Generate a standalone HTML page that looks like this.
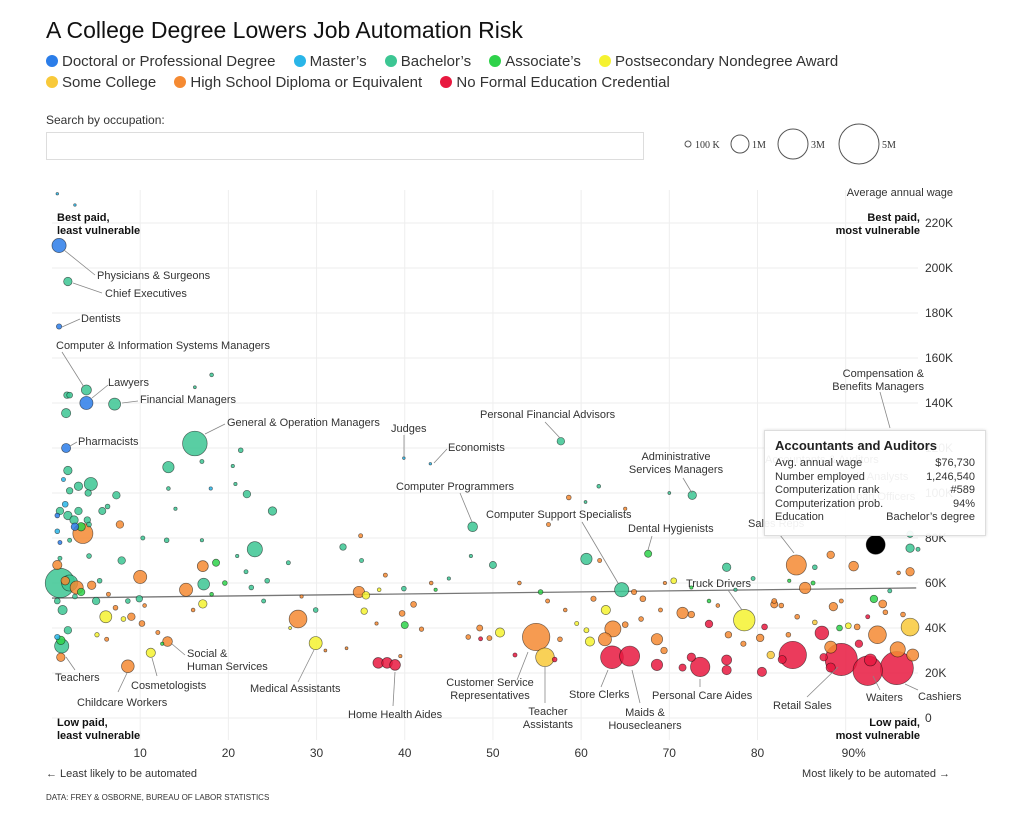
<!DOCTYPE html>
<html><head><meta charset="utf-8">
<style>
body{margin:0;background:#fff;font-family:"Liberation Sans",sans-serif;color:#222;}
#wrap{position:relative;width:1024px;height:831px;overflow:hidden;}
.title{position:absolute;left:46px;top:17px;font-size:23px;color:#111;}
.leg{position:absolute;left:46px;font-size:15px;color:#333;white-space:nowrap;}
.leg span{margin-right:14px;}
.dot{display:inline-block;width:12px;height:12px;border-radius:50%;margin-right:4px;vertical-align:-1px;}
.slabel{position:absolute;left:46px;top:113px;font-size:12px;color:#333;}
.search{position:absolute;left:46px;top:132px;width:596px;height:26px;border:1px solid #ddd;}
#tip{position:absolute;left:764px;top:430px;width:220px;height:104px;border:1px solid #ddd;background:rgba(255,255,255,0.93);box-shadow:0 0 3px rgba(0,0,0,0.15);font-size:11px;color:#333;}
#tip .h{font-weight:bold;font-size:13px;margin:7px 0 4px 10px;color:#222;}
#tip .r{display:flex;justify-content:space-between;margin:0 10px;line-height:13.6px;}
</style></head><body>
<div id="wrap">
<div class="title">A College Degree Lowers Job Automation Risk</div>
<div class="leg" style="top:53px">
<span><i class="dot" style="background:#2b7de9"></i>Doctoral or Professional Degree</span>
<span><i class="dot" style="background:#29b5e8"></i>Master’s</span>
<span><i class="dot" style="background:#3cc693"></i>Bachelor’s</span>
<span><i class="dot" style="background:#2ed24a"></i>Associate’s</span>
<span><i class="dot" style="background:#f5f230"></i>Postsecondary Nondegree Award</span>
</div>
<div class="leg" style="top:74px">
<span><i class="dot" style="background:#f8c93a"></i>Some College</span>
<span><i class="dot" style="background:#f58a32"></i>High School Diploma or Equivalent</span>
<span><i class="dot" style="background:#e8193f"></i>No Formal Education Credential</span>
</div>
<div class="slabel">Search by occupation:</div>
<div class="search"></div>
<svg id="chart" width="1024" height="831" style="position:absolute;left:0;top:0"></svg>
<div id="tip">
<div class="h">Accountants and Auditors</div>
<div class="r"><span>Avg. annual wage</span><span>$76,730</span></div>
<div class="r"><span>Number employed</span><span>1,246,540</span></div>
<div class="r"><span>Computerization rank</span><span>#589</span></div>
<div class="r"><span>Computerization prob.</span><span>94%</span></div>
<div class="r"><span>Education</span><span>Bachelor’s degree</span></div>
</div>
</div>
<script>
const xTicks=[10,20,30,40,50,60,70,80,90];
const yTicks=[0,20,40,60,80,100,120,140,160,180,200,220];
const trendProb=[0,98];
const trendWage=[53.3,57.8];
const colors={D:"#2b7de9",M:"#29b5e8",B:"#3cc693",A:"#2ed24a",P:"#f5f230",S:"#f8c93a",H:"#f58a32",N:"#e8193f",K:"#000"};
// [prob %, wage K, employment K, education]
const jobs=[
[0.8,210,700,"D"],[1.8,194,250,"B"],[0.8,174,100,"D"],[3.9,145.8,350,"B"],[3.9,140,600,"D"],[7.1,139.5,500,"B"],
[1.7,143.5,150,"B"],[2.0,143.5,120,"B"],[1.6,135.5,300,"B"],[16.2,122,2100,"B"],[1.6,120,290,"D"],
[18.1,152.5,50,"B"],[16.2,147,30,"B"],[39.9,115.5,25,"M"],[42.9,113,20,"M"],[57.7,123,200,"B"],[47.7,85,330,"B"],
[72.6,99,250,"B"],[67.6,73,180,"A"],[64.6,57,700,"B"],[78.5,43.5,1600,"P"],[84.4,68,1400,"H"],[93.4,77,1250,"K"],
[97.3,81.7,150,"B"],[97.3,75.5,250,"B"],[98.2,75,60,"B"],
[54.9,36,2600,"H"],[55.9,27,1200,"S"],[37,24.5,400,"N"],[38,24.5,400,"N"],[38.9,23.6,400,"N"],
[63.5,27,1800,"N"],[65.5,27.5,1400,"N"],[73.5,22.7,1300,"N"],[84.0,28,2600,"N"],[89.5,26,3600,"N"],[92.5,21,3000,"N"],[95.8,22.2,3800,"N"],
[29.9,33.3,590,"P"],[27.9,44,1100,"H"],[11.2,29,300,"P"],[8.6,23,560,"H"],[13.1,34,330,"H"],
[0.9,60,3000,"B"],[2.0,60,900,"B"],[2.8,58,600,"H"],[1.1,32,700,"B"],[1,27,250,"H"],[1,34.5,250,"A"],
[3.5,82,1400,"H"],[4.4,104,600,"B"],[23,75,800,"B"],[13.2,111.5,450,"B"],[17.2,59.5,480,"B"],[15.2,57,600,"H"],
[17.1,67.5,420,"H"],[10,62.7,600,"H"],[6.1,45,500,"P"],[17.1,50.7,250,"P"],[18.6,69,180,"A"],[25,92,250,"B"],
[22.1,99.5,200,"B"],[7.3,99,200,"B"],[7.9,70,200,"B"],[13,79,80,"B"],[7.7,86,200,"H"],[34.8,56,450,"H"],[35.6,54.5,200,"P"],
[33,76,150,"B"],[35,81,60,"H"],[35.1,70,60,"B"],[37.8,63.5,60,"H"],[37.1,57,50,"P"],[39.9,57.5,80,"B"],[35.4,47.5,150,"P"],
[40,41.3,180,"A"],[41,50.5,120,"H"],[41.9,39.5,70,"H"],[39.7,46.5,120,"H"],[50,68,180,"B"],[50.8,38,300,"P"],[48.5,40,130,"H"],
[49.6,35.5,90,"H"],[47.2,36,80,"H"],[48.6,35.2,60,"N"],[60.6,70.7,450,"B"],[58.6,98,80,"H"],[56.3,86,60,"H"],[55.4,56,80,"A"],
[62.8,48,300,"P"],[63.6,39.6,900,"H"],[62.7,35,600,"H"],[68.6,35,450,"H"],[71.5,46.7,450,"H"],[72.5,46,150,"H"],[74.5,41.8,200,"N"],
[70.5,61,120,"P"],[74.5,52,50,"A"],[76.5,67,250,"B"],[85.4,57.8,450,"H"],[83.6,61,40,"A"],[90.9,67.5,330,"H"],[97.3,65,250,"H"],
[88.3,72.5,200,"H"],[93.2,52.9,200,"A"],[94.2,50.7,220,"H"],[87.3,37.8,650,"N"],[90.3,41,120,"P"],[89.3,40,120,"A"],[91.3,40.5,120,"H"],
[93.6,37,1100,"H"],[97.3,40.4,1100,"S"],[95.9,30.5,800,"H"],[97.6,28,500,"H"],[92.8,25.8,500,"N"],[88.3,31.5,500,"H"],
[81.9,50.5,180,"H"],[81.9,52,90,"H"],[82.7,50,80,"H"],[80.3,35.6,200,"H"],[88.6,49.5,250,"H"],
[72.5,27,250,"N"],[71.5,22.4,180,"N"],[68.6,23.6,450,"N"],[76.5,25.8,350,"N"],[76.5,21.3,300,"N"],[80.5,20.5,300,"N"],
[82.8,26,230,"N"],[81.5,28,200,"S"],[87.5,27,200,"N"],[91.5,33,200,"N"],[88.3,22.4,300,"N"],
[69.4,30,150,"H"],[65,41.5,120,"H"],[66.8,44,80,"H"],[76.7,37,150,"H"],[78.4,33,100,"H"],[80.8,40.5,120,"N"],
[60.6,39,90,"P"],[59.5,42,60,"P"],[61,34,300,"P"],[57.6,35,80,"H"],[57,26,80,"N"],[52.5,28,60,"N"],
[62.1,70,60,"H"],[61.4,53,100,"H"],[66,56,100,"H"],[67,53,120,"H"],[69,48,60,"H"],
[1.2,48,300,"B"],[1.8,39,200,"B"],[0.6,36,100,"M"],[5.0,52,200,"B"],[4.5,59,250,"H"],[0.6,68,300,"H"],[1.5,61,250,"H"],
[3.3,56,200,"A"],[2.6,54,80,"B"],[0.6,52,120,"B"],[1.8,110,250,"B"],[1.3,106,60,"M"],[2,101,150,"B"],[3,103,250,"B"],
[4.1,100,150,"B"],[3,92,200,"B"],[0.9,92,200,"B"],[1.5,95,120,"M"],[0.6,90,80,"D"],[1.8,90,250,"B"],[2.5,88,250,"B"],
[4,88,150,"B"],[2.6,85,200,"D"],[3.3,85,250,"A"],[4.2,86,80,"B"],[0.6,83,80,"M"],[0.9,78,60,"D"],[2,79,60,"B"],
[0.9,71,60,"B"],[4.2,72,80,"B"],[5.7,92,180,"B"],[6.3,94,80,"B"],[10.3,80,60,"B"],[5.4,61,80,"B"],[6.4,55,60,"H"],
[8.6,52,80,"B"],[7.2,49,80,"H"],[8.1,44,80,"P"],[5.1,37,70,"P"],[9,45,200,"H"],[10.2,42,120,"H"],[6.2,35,60,"H"],
[9.9,53,150,"B"],[21.4,119,80,"B"],[20.5,112,40,"B"],[17,114,60,"B"],[20.8,104,40,"B"],[18,102,40,"M"],
[13.2,102,50,"B"],[14,93,40,"B"],[17,79,40,"B"],[21,72,40,"B"],[22,65,60,"B"],[22.6,58,80,"B"],[24,52,60,"B"],[24.4,61,80,"B"],
[19.6,60,80,"A"],[18.1,55,50,"A"],[16,48,50,"H"],[12,38,60,"H"],[12.5,33,40,"A"],[10.5,50,50,"H"],[26.8,69,60,"B"],
[29.9,48,80,"B"],[28.3,54,40,"H"],[27,40,30,"P"],[31,30,30,"H"],[36.8,42,40,"H"],[39.5,27.5,40,"H"],[33.4,31,30,"H"],
[43,60,50,"H"],[45,62,40,"B"],[43.5,57,40,"A"],[47.5,72,40,"B"],[53,60,50,"H"],[56.2,52,60,"H"],[58.2,48,50,"H"],
[62,103,50,"B"],[65,93,40,"H"],[60.5,96,30,"B"],[70,100,30,"B"],[86.5,67,80,"B"],[86.3,60,60,"A"],[96,64.5,50,"H"],[95,56.5,60,"B"],
[94.5,47,80,"H"],[96.5,46,80,"H"],[92.5,45,60,"N"],[89.5,52,60,"H"],[84.5,45,80,"H"],[86.5,42.5,80,"S"],[83.5,37,80,"H"],
[79.5,62,60,"B"],[77.5,57,40,"B"],[75.5,50,50,"H"],[72.5,58,40,"A"],[69.5,60,40,"H"],[0.6,233,20,"M"],[2.6,228,20,"M"]
];
const svg=document.getElementById('chart');
const NS='http://www.w3.org/2000/svg';
const X0=52,X1=918,PMAX=98.2,Y0=718,YPER=2.25;
function xs(p){return X0+p*(X1-X0)/PMAX;}
function ys(w){return Y0-w*YPER;}
function rs(e){return 19*Math.sqrt(e/5000);}
function mk(t,a,p){const e=document.createElementNS(NS,t);for(const k in a)e.setAttribute(k,a[k]);(p||svg).appendChild(e);return e;}
function txt(s,x,y,a){const e=mk('text',Object.assign({x:x,y:y,'font-size':11,fill:'#333','font-family':'Liberation Sans, sans-serif'},a||{}));e.textContent=s;return e;}
yTicks.forEach(v=>{const l=mk('line',{x1:X0,x2:X1,y1:ys(v),y2:ys(v),stroke:'#eee','stroke-width':1});


const t=txt(v===0?'0':v+'K',925,ys(v)+4,{'font-size':12});

});
xTicks.forEach(v=>{const l=mk('line',{x1:xs(v),x2:xs(v),y1:190,y2:740,stroke:'#eee','stroke-width':1});


const t=txt(v===90?'90%':String(v),xs(v)+(v===90?8:0),757,{'font-size':12,'text-anchor':'middle'});

});
[[688,3,'100 K',695],[740,9,'1M',752],[793,15,'3M',811],[859,20,'5M',882]].forEach(s=>{
const c=mk('circle',{cx:s[0],cy:144,r:s[1],fill:'none',stroke:'#555','stroke-width':1});


const t=txt(s[2],s[3],148,{'font-size':10,'font-family':'Liberation Serif, serif',fill:'#333'});

});
const tl=mk('line',{x1:xs(trendProb[0]),y1:ys(trendWage[0]),x2:xs(trendProb[1]),y2:ys(trendWage[1]),stroke:'#777','stroke-width':1.3});


const g=mk('g',{});


jobs.slice().sort((a,b)=>b[2]-a[2]).forEach(d=>{
const c=mk('circle',{cx:xs(d[0]),cy:ys(d[1]),r:Math.max(1.3,rs(d[2])),fill:colors[d[3]],'fill-opacity':d[3]==='K'?1:0.85,stroke:'rgba(0,0,0,0.55)','stroke-width':0.7},g);

});
const labels=[
["Physicians & Surgeons",97,279,64,250,95,275],["Chief Executives",105,297,73,283,102,293],["Dentists",81,322,62,327,80,319],
["Computer & Information Systems Managers",56,349,62,352,84,387],["Lawyers",108,386,92,398,108,385],["Financial Managers",140,403,122,403,138,401],
["General & Operation Managers",227,426,205,434,225,424],["Pharmacists",78,445,70,446,77,442],["Judges",391,432,404,435,404,457],
["Economists",448,451,434,463,447,449],["Personal Financial Advisors",480,418,545,422,560,438],["Computer Programmers",396,490,460,493,472,522],
["Computer Support Specialists",486,518,582,522,618,583],["Dental Hygienists",628,532,652,536,648,550],["Truck Drivers",686,587,728,590,742,610],
["Sales Reps",748,527,780,535,794,553],["Teachers",55,681,75,670,66,657],["Childcare Workers",77,706,118,692,127,673],
["Cosmetologists",131,689,157,676,152,658],["Medical Assistants",250,692,298,682,314,650],["Home Health Aides",348,718,393,706,395,672],
["Store Clerks",569,698,601,687,608,670],["Personal Care Aides",652,699,700,687,700,679],["Retail Sales",773,709,807,697,838,667],
["Waiters",866,701,880,690,873,676],["Cashiers",918,700,918,690,905,684],
["Accountants & Auditors",765,463,0,0,0,0],["Credit Analysts",835,480,0,0,0,0],["Loan Officers",850,500,0,0,0,0]];
labels.forEach(l=>{if(l[3]){const ln=mk('line',{x1:l[3],y1:l[4],x2:l[5],y2:l[6],stroke:'#888','stroke-width':0.8});

}
const t=txt(l[0],l[1],l[2]);

});
const multi=[[["Administrative","Services Managers"],676,460,'middle',683,478,692,493],[["Social &","Human Services"],187,657,'start',185,655,172,644],
[["Customer Service","Representatives"],490,686,'middle',517,680,528,652],[["Teacher","Assistants"],548,715,'middle',545,703,545,666],
[["Maids &","Housecleaners"],645,716,'middle',640,703,632,670],[["Compensation &","Benefits Managers"],924,377,'end',880,392,890,428]];
multi.forEach(m=>{const ln=mk('line',{x1:m[4],y1:m[5],x2:m[6],y2:m[7],stroke:'#888','stroke-width':0.8});


m[0].forEach((s,i)=>{const t=txt(s,m[1],m[2]+i*13,{'text-anchor':m[3]});

});});
const corner=[[["Best paid,","least vulnerable"],57,221,'start'],[["Low paid,","least vulnerable"],57,726,'start'],
[["Best paid,","most vulnerable"],920,221,'end'],[["Low paid,","most vulnerable"],920,726,'end']];
corner.forEach(c=>c[0].forEach((s,i)=>{const t=txt(s,c[1],c[2]+i*13,{'text-anchor':c[3],'font-weight':'bold',fill:'#111'});

}));
const yt=txt('Average annual wage',953,196,{'text-anchor':'end'});


const xl=txt('← Least likely to be automated',46,777);


const xr=txt('Most likely to be automated →',950,777,{'text-anchor':'end'});


const src=txt('DATA: FREY & OSBORNE, BUREAU OF LABOR STATISTICS',46,800,{'font-size':8});


</script>
</body></html>
